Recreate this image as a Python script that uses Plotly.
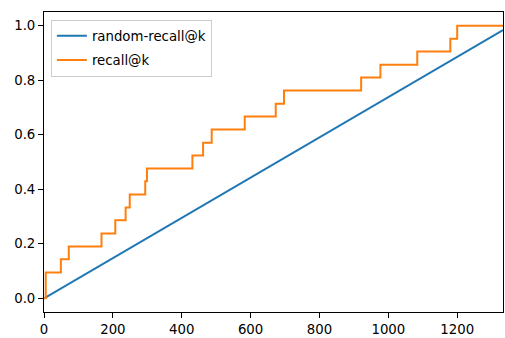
import plotly.graph_objects as go

# data
k_max = 1333
random_k = [0, 1333]
random_recall = [0.0, 0.984]
step_k = [0, 5, 49, 72, 167, 207, 237, 249, 294, 299, 431, 462, 487, 583, 673, 697,
          921, 977, 1084, 1180, 1200, 1333]
recall = [0.0, 0.095, 0.143, 0.190, 0.238, 0.286, 0.333, 0.381, 0.429, 0.476, 0.524,
          0.571, 0.619, 0.667, 0.714, 0.762, 0.810, 0.857, 0.905, 0.952, 1.0, 1.0]
x_ticks = [0, 200, 400, 600, 800, 1000, 1200]
y_ticks = [0.0, 0.2, 0.4, 0.6, 0.8, 1.0]

FONT = "DejaVu Sans"
FS = 13.3

fig = go.Figure()
fig.add_trace(go.Scatter(x=random_k, y=random_recall, mode="lines",
                         name="random-recall@k", legendgroup="a",
                         line=dict(color="#1f77b4", width=2)))
fig.add_trace(go.Scatter(x=step_k, y=recall, mode="lines", name="recall@k",
                         legendgroup="b",
                         line=dict(color="#ff7f0e", width=2, shape="hv")))

axis_common = dict(showgrid=False, zeroline=False, showline=True, linecolor="black",
                   linewidth=1, mirror=True, ticks="outside", ticklen=5,
                   tickwidth=1, tickcolor="black",
                   tickfont=dict(family=FONT, size=FS, color="black"))

fig.update_layout(
    width=505, height=338,
    margin=dict(l=44, r=1, t=12, b=22),
    paper_bgcolor="white", plot_bgcolor="white",
    font=dict(family=FONT, size=FS, color="black"),
    xaxis=dict(range=[0, k_max], tickvals=x_ticks, **axis_common),
    yaxis=dict(range=[-0.05, 1.05], tickvals=y_ticks, tickformat=".1f", **axis_common),
    legend=dict(x=0.015, y=0.975, xanchor="left", yanchor="top",
                bgcolor="rgba(255,255,255,0.8)", bordercolor="#cccccc", borderwidth=1,
                font=dict(family=FONT, size=FS, color="black"),
                itemwidth=30, traceorder="grouped", tracegroupgap=4),
    showlegend=True,
)

fig.write_html("out.html")
